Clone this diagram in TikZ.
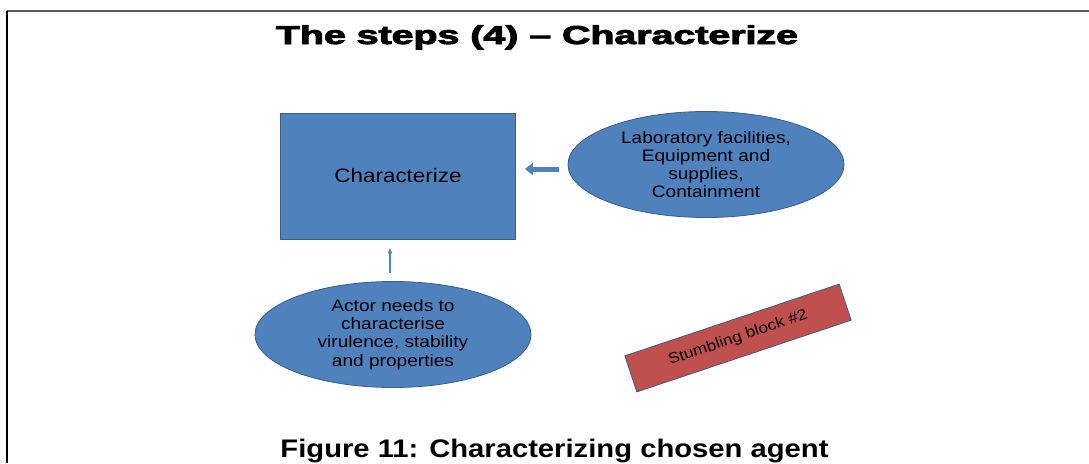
\documentclass[tikz,border=0pt]{standalone}
\usepackage{fontspec}
\setmainfont{Liberation Sans}[FakeStretch=1.15]
\newfontfamily\heavyfont{Liberation Sans Bold}[FakeBold=3]
\usetikzlibrary{arrows.meta,shapes.geometric}
\definecolor{BoxBlue}{RGB}{79,129,189}
\definecolor{EdgeBlue}{RGB}{56,93,138}
\definecolor{BlockRed}{RGB}{192,80,77}

\begin{document}
\begin{tikzpicture}[x=1pt,y=-1pt,
    stepbox/.style={draw=EdgeBlue,line width=0.8pt,fill=BoxBlue,inner sep=0pt,
      minimum width=235pt,minimum height=126pt,font=\fontsize{19.5}{22}\selectfont},
    agentoval/.style={ellipse,draw=EdgeBlue,line width=0.8pt,fill=BoxBlue,inner sep=0pt,
      minimum width=276pt,minimum height=106pt,align=center,font=\fontsize{16.6}{18.2}\selectfont},
    blockbar/.style={draw=EdgeBlue,line width=0.8pt,fill=BlockRed,inner sep=0pt,
      minimum width=226pt,minimum height=38pt,font=\fontsize{15}{18}\selectfont},
    fatarrow/.style={BoxBlue,line width=5pt,-{Triangle[length=8pt,width=12pt]}},
    thinarrow/.style={BoxBlue,line width=1.4pt,-{Latex[length=6pt,width=5pt]}}]
  \useasboundingbox (0,0) rectangle (1089,463);
  \draw[line width=2pt,black!65] (7,11) -- (1089,11);
  \draw[line width=1.5pt] (7,11) -- (7,463);

  \node[anchor=base] (title) at (537,44)
    {\resizebox{522pt}{18.8pt}{\heavyfont The steps (4) – Characterize}};

  \node[stepbox] (char) at (398,176) {Characterize};
  \node[agentoval] (lab) at (706,164.5)
    {Laboratory facilities,\\Equipment and\\supplies,\\Containment};
  \node[agentoval] (actor) at (393,334.5)
    {Actor needs to\\characterise\\virulence, stability\\and properties};
  \node[blockbar,rotate=18.5] (block) at (738,338) {Stumbling block \#2};

  \draw[fatarrow] ([shift={(-9,4.5)}]lab.west) -- ([shift={(9,-7)}]char.east);
  \draw[thinarrow] ([shift={(-3,-7.7)}]actor.north) -- ([shift={(-8,8)}]char.south);

  \node[anchor=base,font=\fontsize{25.4}{30}\selectfont\bfseries] (caption) at (554.5,457)
    {Figure 11: Characterizing chosen agent};
\end{tikzpicture}
\end{document}
